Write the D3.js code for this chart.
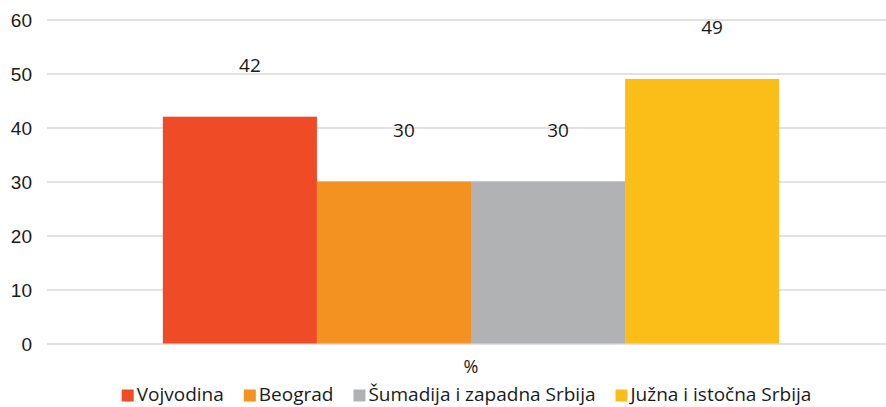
<!DOCTYPE html>
<html>
<head>
<meta charset="utf-8">
<script src="https://cdn.jsdelivr.net/npm/d3@7"></script>
<style>
  body { margin: 0; background: #fff; }
  svg { display: block; font-family: "Open Sans", "Noto Sans", sans-serif; }
  .grid line { stroke: #d9d9d9; stroke-width: 1.5; }
  .grid .domain { display: none; }
  .y-axis text { font-size: 19px; fill: #1a1a1a; }
  .y-axis .domain, .y-axis line { display: none; }
</style>
</head>
<body>
<svg id="chart" width="886" height="407"></svg>
<script>
(function() {

  var categories = ["%"];
  var seriesNames = ["Vojvodina", "Beograd", "Šumadija i zapadna Srbija", "Južna i istočna Srbija"];
  var seriesValues = [42, 30, 30, 49];
  var seriesColors = ["#ee4b26", "#f39221", "#b1b2b4", "#fbbe18"];
  var yTicks = [0, 10, 20, 30, 40, 50, 60];

  var margin = {
    top: 19.5,
    left: 47,
    right: -9,
    bottom: 63.5
  };

  var width = 886, height = 407;
  var chartWidth = width - margin.left - margin.right,
      chartHeight = height - margin.top - margin.bottom;

  var svg = d3.select('#chart');

  var g = svg.append('g')
      .attr('transform', 'translate(' + margin.left + ',' + margin.top + ')');

  var yScale = d3.scaleLinear()
      .domain([0, 60])
      .range([chartHeight, 0]);

  var xScale = d3.scaleBand()
      .domain(categories)
      .range([0, chartWidth])
      .paddingOuter(0.188);

  var seriesScale = d3.scaleBand()
      .domain(seriesNames)
      .range([0, xScale.bandwidth()]);

  g.append('g')
      .attr('class', 'grid')
      .call(d3.axisLeft(yScale)
        .tickValues(yTicks)
        .tickSize(-chartWidth)
        .tickFormat('')
      );

  g.append('g')
      .attr('class', 'y-axis')
      .attr('transform', 'translate(-15,0)')
      .call(d3.axisLeft(yScale)
        .tickValues(yTicks)
        .tickSize(0)
        .tickPadding(0)
      )
      .selectAll('text')
        .attr('dy', '0.36em');

  var group = g.selectAll('.group')
      .data(categories)
    .enter().append('g')
      .attr('class', 'group')
      .attr('transform', function(d) { return 'translate(' + xScale(d) + ',0)'; });

  var rows = seriesNames.map(function(name, i) {
    return { name: name, value: seriesValues[i], color: seriesColors[i] };
  });

  group.selectAll('rect')
      .data(rows)
    .enter().append('rect')
      .attr('x', function(d) { return seriesScale(d.name); })
      .attr('y', function(d) { return yScale(d.value); })
      .attr('width', seriesScale.bandwidth())
      .attr('height', function(d) { return chartHeight - yScale(d.value); })
      .attr('fill', function(d) { return d.color; });

  group.selectAll('.value')
      .data(rows)
    .enter().append('text')
      .attr('class', 'value')
      .attr('x', function(d) { return seriesScale(d.name) + seriesScale.bandwidth() / 2 + 10; })
      .attr('y', function(d) { return yScale(d.value) - 45; })
      .attr('text-anchor', 'middle')
      .attr('font-size', 19)
      .attr('fill', '#1a1a1a')
      .text(function(d) { return d.value; });

  g.selectAll('.cat-label')
      .data(categories)
    .enter().append('text')
      .attr('class', 'cat-label')
      .attr('x', function(d) { return xScale(d) + xScale.bandwidth() / 2; })
      .attr('y', chartHeight + 29)
      .attr('text-anchor', 'middle')
      .attr('font-size', 18)
      .attr('fill', '#1a1a1a')
      .text(function(d) { return d; });

  // legend, centred under the plot
  var legend = svg.append('g').attr('class', 'legend');
  var x = 0;
  rows.forEach(function(d) {
    var item = legend.append('g').attr('transform', 'translate(' + x + ',0)');
    item.append('rect')
      .attr('x', 0)
      .attr('y', -11)
      .attr('width', 12)
      .attr('height', 12)
      .attr('fill', d.color);
    var t = item.append('text')
      .attr('x', 15)
      .attr('y', 0)
      .attr('font-size', 19)
      .attr('fill', '#1a1a1a')
      .text(d.name);
    x += 15 + t.node().getComputedTextLength() + 20;
  });
  var legendWidth = x - 20;
  var centre = margin.left + (width - margin.left) / 2;
  legend.attr('transform', 'translate(' + (centre - legendWidth / 2) + ',400.5)');

})()
</script>
</body>
</html>
